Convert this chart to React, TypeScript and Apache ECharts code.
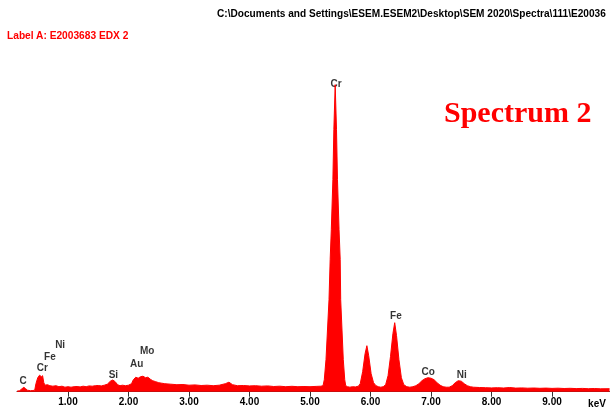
import React, { useEffect, useRef } from "react";
import * as echarts from "echarts";

// Energy (keV) and counts
const spectrumKeV = [
  0.157, 0.2, 0.24, 0.27, 0.3, 0.33, 0.38, 0.42, 0.45, 0.47, 0.5, 0.53, 0.56, 0.58, 0.6, 0.62, 0.66, 0.7, 0.75, 0.8,
  0.85, 0.9, 0.95, 1.0, 1.05, 1.1, 1.15, 1.2, 1.25, 1.3, 1.35, 1.4, 1.45, 1.5, 1.55, 1.6, 1.65, 1.7, 1.74, 1.78,
  1.82, 1.86, 1.9, 1.95, 2.0, 2.05, 2.08, 2.12, 2.16, 2.2, 2.24, 2.28, 2.32, 2.36, 2.4, 2.45, 2.5, 2.55, 2.6, 2.7,
  2.8, 2.9, 3.0, 3.1, 3.2, 3.3, 3.4, 3.5, 3.6, 3.66, 3.72, 3.8, 3.9, 4.0, 4.1, 4.2, 4.3, 4.4, 4.5, 4.6,
  4.7, 4.8, 4.9, 5.0, 5.1, 5.18, 5.215, 5.236, 5.264, 5.314, 5.333, 5.352, 5.378, 5.394, 5.416, 5.438, 5.454, 5.48, 5.499, 5.507,
  5.55, 5.574, 5.59, 5.62, 5.66, 5.7, 5.75, 5.8, 5.83, 5.87, 5.91, 5.94, 5.97, 6.01, 6.05, 6.09, 6.13, 6.17, 6.21, 6.25,
  6.29, 6.33, 6.37, 6.4, 6.43, 6.47, 6.51, 6.55, 6.6, 6.65, 6.7, 6.75, 6.8, 6.85, 6.9, 6.95, 7.0, 7.05, 7.1, 7.15,
  7.2, 7.25, 7.3, 7.35, 7.4, 7.45, 7.5, 7.55, 7.6, 7.65, 7.7, 7.8, 7.9, 8.0, 8.1, 8.2, 8.3, 8.4, 8.5, 8.6,
  8.7, 8.8, 8.9, 9.0, 9.1, 9.2, 9.3, 9.4, 9.5, 9.6, 9.7, 9.8, 9.95,
];
const spectrumCounts = [
  5, 10, 30, 44, 30, 15, 10, 12, 15, 80, 140, 165, 150, 160, 90, 65, 70, 60, 55, 60,
  50, 55, 45, 50, 45, 50, 52, 48, 55, 50, 58, 55, 60, 62, 58, 65, 75, 105, 117, 100,
  70, 60, 65, 60, 65, 80, 120, 145, 135, 150, 155, 140, 145, 125, 110, 100, 90, 85, 80, 75,
  70, 72, 65, 68, 62, 65, 60, 65, 80, 95, 70, 60, 62, 58, 60, 55, 58, 52, 55, 50,
  54, 50, 52, 50, 53, 55, 60, 120, 320, 920, 1320, 1620, 2120, 2620, 3070, 2620, 2120, 1620, 1320, 920,
  320, 120, 60, 50, 45, 50, 48, 55, 80, 200, 380, 460, 360, 180, 90, 60, 50, 45, 50, 70,
  160, 350, 580, 690, 560, 320, 140, 70, 50, 45, 50, 60, 80, 110, 130, 140, 135, 120, 90, 65,
  50, 45, 45, 60, 90, 110, 105, 80, 60, 50, 45, 42, 40, 38, 40, 37, 42, 36, 38, 35,
  37, 34, 36, 33, 35, 32, 34, 31, 33, 30, 32, 29, 30,
];

// Element labels
const elementNames = ["C", "Cr", "Fe", "Ni", "Si", "Au", "Mo", "Cr", "Fe", "Co", "Ni"];
const elementKeV = [0.26, 0.575, 0.7, 0.87, 1.75, 2.135, 2.31, 5.43, 6.42, 6.955, 7.51];
const elementLabelCounts = [110, 244, 357, 477, 170, 284, 410, 3084, 760, 200, 177];

const tickValues = [1, 2, 3, 4, 5, 6, 7, 8, 9];
const headerPath = "C:\\Documents and Settings\\ESEM.ESEM2\\Desktop\\SEM 2020\\Spectra\\111\\E20036";
const labelText = "Label A: E2003683 EDX 2";
const titleText = "Spectrum 2";
const unitText = "keV";

export default function App() {
  const ref = useRef<HTMLDivElement>(null);
  useEffect(() => {
    if (!ref.current) return;
    const chart = echarts.init(ref.current, null, { renderer: "svg" });
    const sans = "'Liberation Sans', Arial, sans-serif";
    chart.setOption({
      animation: false,
      grid: { left: 17, right: 0.5, top: 71.7, bottom: 20.3 },
      xAxis: {
        type: "value",
        min: 0.157,
        max: 9.95,
        splitLine: { show: false },
        axisLine: { show: true, lineStyle: { color: "#333", width: 1 } },
        axisTick: { show: true, length: 5, customValues: tickValues, lineStyle: { color: "#333" } },
        axisLabel: {
          customValues: tickValues,
          formatter: (v: number) => v.toFixed(2),
          color: "#000",
          fontFamily: sans,
          fontWeight: "bold",
          fontSize: 10,
          margin: 5,
        },
      },
      yAxis: {
        type: "value",
        min: 0,
        max: 3200,
        show: false,
        splitLine: { show: false },
      },
      graphic: [
        {
          type: "text",
          x: 217,
          y: 13,
          style: { text: headerPath, font: `bold 10.1px ${sans}`, fill: "#000", verticalAlign: "middle" },
        },
        {
          type: "text",
          x: 7,
          y: 35,
          style: { text: labelText, font: `bold 10.2px ${sans}`, fill: "#ff0000", verticalAlign: "middle" },
        },
        {
          type: "text",
          x: 444,
          y: 111,
          style: {
            text: titleText,
            font: `bold 30px 'Liberation Serif', 'Times New Roman', serif`,
            fill: "#ff0000",
            verticalAlign: "middle",
          },
        },
        {
          type: "text",
          x: 597,
          y: 403,
          style: { text: unitText, font: `bold 10px ${sans}`, fill: "#000", verticalAlign: "middle", align: "center" },
        },
      ],
      series: [
        {
          type: "scatter",
          symbolSize: 1,
          itemStyle: { color: "rgba(0,0,0,0)" },
          z: 1,
          data: elementNames.map((n, i) => ({ name: n, value: [elementKeV[i], elementLabelCounts[i]] })),
          label: {
            show: true,
            position: "inside",
            formatter: (p: any) => p.name,
            color: "#000",
            fontFamily: sans,
            fontWeight: "bold",
            fontSize: 10,
          },
        },
        {
          type: "line",
          z: 2,
          showSymbol: false,
          symbol: "none",
          data: spectrumKeV.map((k, i) => [k, spectrumCounts[i]]),
          lineStyle: { color: "#ff0000", width: 1 },
          areaStyle: { color: "#ff0000", opacity: 1 },
        },
      ],
    });
    return () => chart.dispose();
  }, []);
  return <div ref={ref} style={{ position: "fixed", left: 0, top: 0, width: 610, height: 412 }} />;
}
